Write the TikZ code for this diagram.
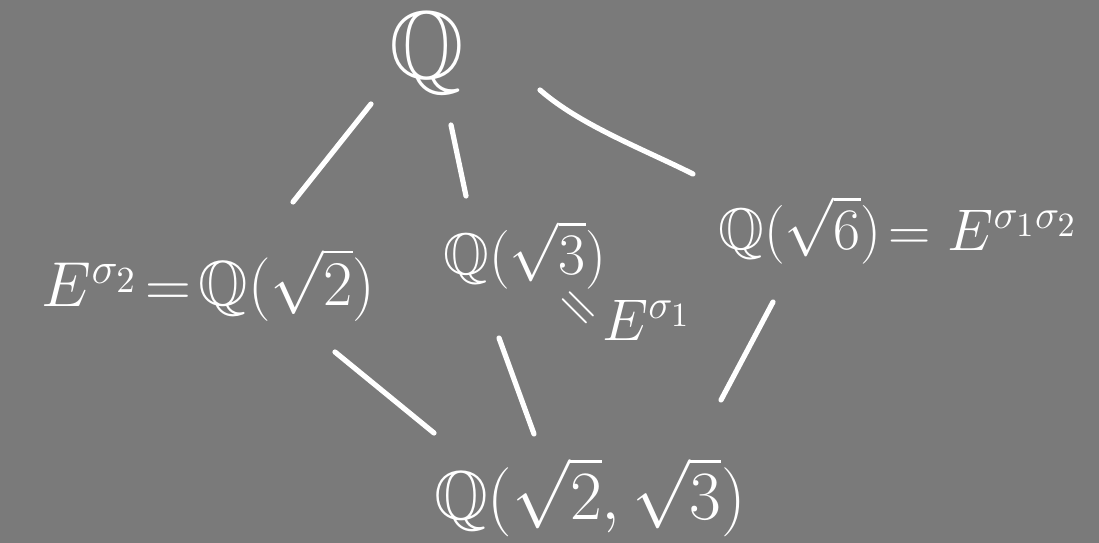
\documentclass[tikz,border=0pt]{standalone}
\usepackage{amssymb}
\definecolor{bg}{RGB}{122,122,122}
\tikzset{
  lbl/.style={text=white, inner sep=0pt, font=\fontsize{17.28}{21}\selectfont},
  edge/.style={draw=white, line width=1.3pt, line cap=round}
}
\begin{document}
\begin{tikzpicture}[x=0.25pt,y=-0.25pt]
\fill[bg] (0,0) rectangle (1099,543);
\useasboundingbox (0,0) rectangle (1099,543);
\node[lbl, font=\fontsize{24}{28}\selectfont] (q) at (427,53) {$\mathbb{Q}$};
\node[lbl, scale=0.92] (l) at (287,285) {$\mathbb{Q}(\sqrt{2})$};
\node[lbl, scale=0.92, anchor=east] (le) at ([shift={(-6,0)}]l.west) {$E^{\sigma_2}\!=$};
\node[lbl, scale=0.85] (m) at (525,255) {$\mathbb{Q}(\sqrt{3})$};
\node[lbl, scale=0.8, rotate=-45] (meq) at (576,311) {$=$};
\node[lbl, scale=0.85] (me) at (647,320) {$E^{\sigma_1}$};
\node[lbl, scale=0.85] (r) at (800,230) {$\mathbb{Q}(\sqrt{6})$};
\node[lbl, scale=0.85, anchor=west] (re) at ([shift={(6,0)}]r.east) {$=E^{\sigma_1\sigma_2}$};
\node[lbl] (b) at (590,497) {$\mathbb{Q}(\sqrt{2},\sqrt{3})$};
\draw[edge] ([shift={(-56,51)}]q.center) -- ([shift={(6,-83)}]l.center);
\draw[edge] ([shift={(24,72)}]q.center) -- ([shift={(-59,-59)}]m.center);
\draw[edge] ([shift={(113,37)}]q.center) .. controls +(40,35) and +(-50,-25) .. ([shift={(-107,-56)}]r.center);
\draw[edge] ([shift={(48,67)}]l.center) -- ([shift={(-156,-64)}]b.center);
\draw[edge] ([shift={(-26,83)}]m.center) -- ([shift={(-56,-63)}]b.center);
\draw[edge] ([shift={(-27,72)}]r.center) -- ([shift={(131,-97)}]b.center);
\end{tikzpicture}
\end{document}
